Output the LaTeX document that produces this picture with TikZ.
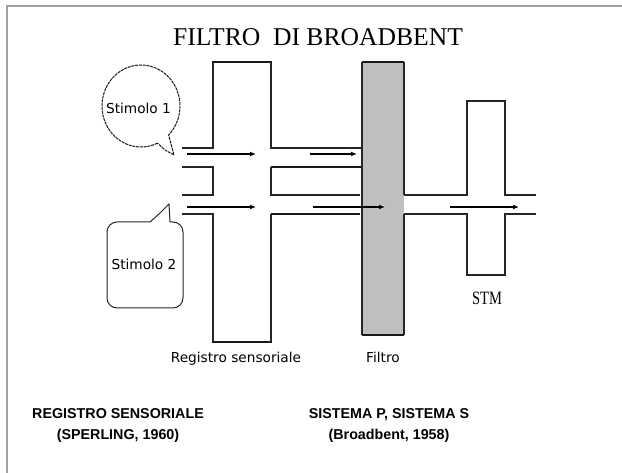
\documentclass[tikz,border=0pt]{standalone}
\usepackage{fontspec}
\usepackage{graphicx}
\setmainfont{Liberation Serif}
\newfontfamily\dvs{DejaVu Sans}
\newfontfamily\lsans{Liberation Sans}
\usetikzlibrary{arrows.meta}
\begin{document}
\begin{tikzpicture}[x=1pt,y=-1pt,
  wall/.style={line width=1.2pt, black!85},
  thick wall/.style={line width=2pt, black!90},
  flow/.style={line width=1.2pt, black, -{Latex[length=6pt,width=5pt]}},
  lbl/.style={font=\dvs\fontsize{13.7}{16}\selectfont, inner sep=0pt},
  ref/.style={font=\lsans\bfseries\fontsize{14.3}{21}\selectfont, align=center, inner sep=0pt},
  frame/.style={line width=2pt, gray!75}]
\useasboundingbox (0,0) rectangle (622,473);
% frame
\draw[frame] (6.5,473) -- (6.5,6.5) -- (622,6.5);
% title
\node[font=\fontsize{25.6}{30}\selectfont, inner sep=0pt] (title) at (318,37) {FILTRO\ \ DI BROADBENT};
% filter
\fill[gray!50] (362,62) rectangle (404,335);
\draw[wall] (362,62) -- (362,335);
\draw[wall] (404,62) -- (404,195);
\draw[wall] (404,214) -- (404,335);
\draw[thick wall] (362,62) -- (404,62);
\draw[thick wall] (362,335) -- (404,335);
% sensory register
\draw[wall] (182,148) -- (213,148) -- (213,62);
\draw[thick wall] (212.4,62) -- (271.6,62);
\draw[wall] (271,62) -- (271,148) -- (362,148);
\draw[wall] (182,167) -- (213,167) -- (213,195) -- (182,195);
\draw[thick wall] (271,167) -- (362,167);
\draw[wall] (271,167) -- (271,195) -- (360,195);
\draw[wall] (182,214) -- (213,214) -- (213,342);
\draw[thick wall] (212.4,342) -- (271.6,342);
\draw[wall] (271,342) -- (271,214);
\draw[thick wall] (271,214) -- (360,214);
% STM
\draw[wall] (404,195) -- (467,195) -- (467,101) -- (505,101) -- (505,195) -- (536,195);
\draw[wall] (404,214) -- (467,214) -- (467,275) -- (505,275) -- (505,214) -- (536,214);
% arrows
\coordinate (a1s) at (187,154); \coordinate (a1e) at (256,154);
\coordinate (a2s) at (310,154); \coordinate (a2e) at (357,154);
\coordinate (b1s) at (187,207); \coordinate (b1e) at (256,207);
\coordinate (b2s) at (313,207); \coordinate (b2e) at (385,207);
\coordinate (c1s) at (450,207); \coordinate (c1e) at (519,207);
\draw[flow] (a1s) -- (a1e);
\draw[flow] (a2s) -- (a2e);
\draw[flow] (b1s) -- (b1e);
\draw[flow] (b2s) -- (b2e);
\draw[flow] (c1s) -- (c1e);
% bubble 1
\draw[line width=1pt, black!90, dash pattern=on 3pt off 0.8pt]
  (141,106) ++(65:39 and 41) arc[start angle=65, end angle=405, x radius=39, y radius=41]
  -- (174,155) -- (165,150) -- cycle;
\node[lbl] (stim1) at (138.5,108) {Stimolo 1};
% bubble 2
\draw[line width=1pt, black!85]
  (150,222) -- (160,213) -- (169,204) -- (170,222) -- (173,222)
  arc[start angle=-90, end angle=0, radius=10] -- (183,298)
  arc[start angle=0, end angle=90, radius=10] -- (117,308)
  arc[start angle=90, end angle=180, radius=10] -- (107,232)
  arc[start angle=180, end angle=270, radius=10] -- cycle;
\node[lbl] (stim2) at (144,264) {Stimolo 2};
% labels
\node[lbl] (lblreg) at (236,359) {Registro sensoriale};
\node[lbl] (lblfil) at (383,357) {Filtro};
\node[font=\fontsize{14.5}{17}\selectfont, inner sep=0pt] (lblstm) at (487,298) {\scalebox{1}[1.3]{STM}};
\node[ref] (refreg) at (118,425) {REGISTRO SENSORIALE\\(SPERLING, 1960)};
\node[ref] (refsys) at (389,425) {SISTEMA P, SISTEMA S\\(Broadbent, 1958)};
\end{tikzpicture}
\end{document}
